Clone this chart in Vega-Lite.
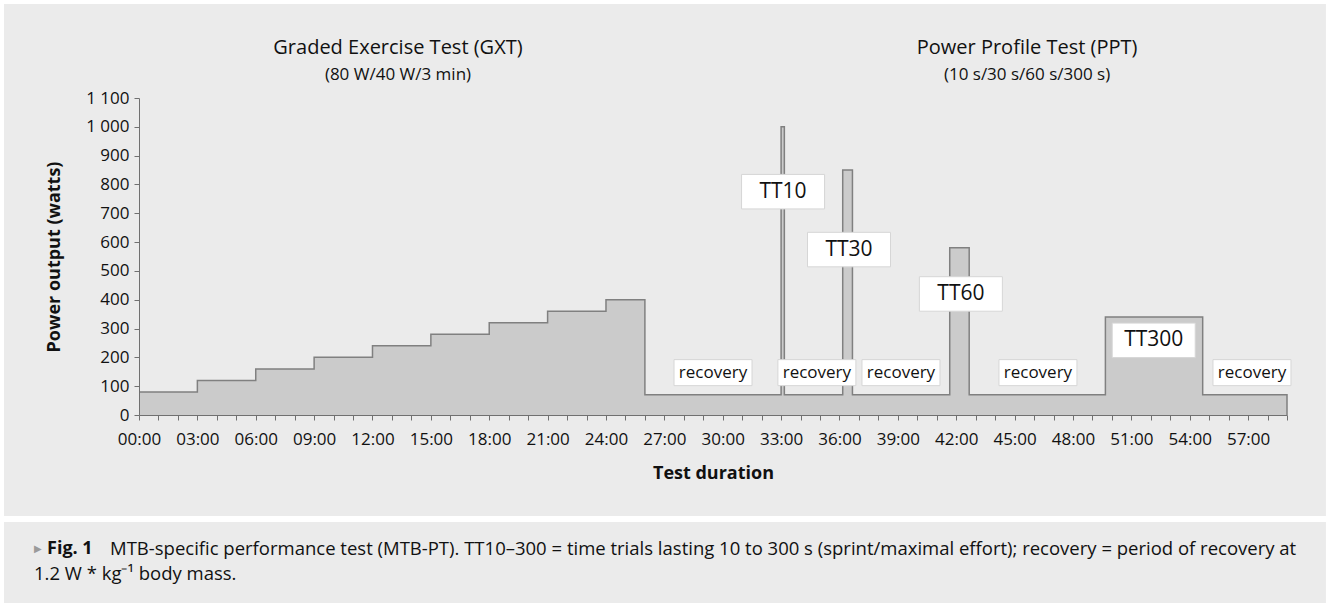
{
  "$schema": "https://vega.github.io/schema/vega-lite/v6.json",
  "width": 1148,
  "height": 317,
  "autosize": {"type": "none"},
  "padding": {"left": 139, "top": 98, "right": 43, "bottom": 188},
  "background": "#ffffff",
  "config": {"view": {"stroke": null}, "font": "Open Sans", "axis": {"labelOverlap": false, "labelFlush": false, "grid": false, "zindex": 1}},
  "datasets": {
    "profile": [
      {"t": 0, "w": 80}, {"t": 3, "w": 120}, {"t": 6, "w": 160}, {"t": 9, "w": 200},
      {"t": 12, "w": 240}, {"t": 15, "w": 280}, {"t": 18, "w": 320}, {"t": 21, "w": 360},
      {"t": 24, "w": 400}, {"t": 26, "w": 70}, {"t": 33, "w": 1000}, {"t": 33.1667, "w": 70},
      {"t": 36.1667, "w": 850}, {"t": 36.6667, "w": 70}, {"t": 41.6667, "w": 580},
      {"t": 42.6667, "w": 70}, {"t": 49.6667, "w": 340}, {"t": 54.6667, "w": 70},
      {"t": 59, "w": 70}, {"t": 59, "w": 0}
    ],
    "tt": [
      {"t": 33.10, "w": 775, "label": "TT10"},
      {"t": 36.49, "w": 574, "label": "TT30"},
      {"t": 42.24, "w": 420, "label": "TT60"},
      {"t": 52.15, "w": 259, "label": "TT300"}
    ],
    "rec": [
      {"t": 29.5, "w": 147, "label": "recovery"},
      {"t": 34.84, "w": 147, "label": "recovery"},
      {"t": 39.16, "w": 147, "label": "recovery"},
      {"t": 46.2, "w": 147, "label": "recovery"},
      {"t": 57.2, "w": 147, "label": "recovery"}
    ],
    "titles": [
      {"t": 13.31, "w": 1254, "label": "Graded Exercise Test (GXT)"},
      {"t": 45.64, "w": 1254, "label": "Power Profile Test (PPT)"}
    ],
    "subtitles": [
      {"t": 13.31, "w": 1162, "label": "(80 W/40 W/3 min)"},
      {"t": 45.64, "w": 1162, "label": "(10 s/30 s/60 s/300 s)"}
    ],
    "caption": [
      {"t": -1.49, "w": -465, "label": "MTB-specific performance test (MTB-PT). TT10–300 = time trials lasting 10 to 300 s (sprint/maximal effort); recovery = period of recovery at"},
      {"t": -5.396, "w": -551.7, "label": "1.2 W * kg⁻¹ body mass."}
    ],
    "figlabel": [{"t": -4.728, "w": -465, "label": "Fig. 1"}],
    "marker": [{"t": -5.396, "w": -465, "label": "▶"}],
    "panel": [{"x0": -6.94, "x1": 61.0, "y0": 1426, "y1": -350.5}, {"x0": -6.94, "x1": 61.0, "y0": -371.3, "y1": -720}]
  },
  "encoding": {
    "x": {"field": "t", "type": "quantitative", "title": "Test duration",
      "scale": {"domain": [0, 59], "nice": false, "zero": false},
      "axis": {
        "zindex": 1,
        "values": [0,1,2,3,4,5,6,7,8,9,10,11,12,13,14,15,16,17,18,19,20,21,22,23,24,25,26,27,28,29,30,31,32,33,34,35,36,37,38,39,40,41,42,43,44,45,46,47,48,49,50,51,52,53,54,55,56,57,58,59],
        "labelExpr": "datum.value % 3 == 0 ? (datum.value < 10 ? '0' : '') + datum.value + ':00' : ''",
        "labelFlush": false, "labelOverlap": false, "grid": false,
        "domainColor": "#707070", "tickColor": "#707070", "tickSize": 5,
        "labelFont": "Open Sans", "labelFontSize": 17, "labelColor": "#111111", "labelPadding": 11,
        "titleFont": "Open Sans", "titleFontSize": 18, "titleFontWeight": "bold", "titleColor": "#111111", "titlePadding": 17
      }},
    "y": {"field": "w", "type": "quantitative", "title": "Power output (watts)",
      "scale": {"domain": [0, 1100], "nice": false},
      "axis": {
        "zindex": 1,
        "values": [0,100,200,300,400,500,600,700,800,900,1000,1100],
        "labelExpr": "datum.value >= 1000 ? '1 ' + substring(format(datum.value, 'd'), 1) : datum.label",
        "grid": false, "labelOverlap": false, "labelFlush": false,
        "domainColor": "#707070", "tickColor": "#707070", "tickSize": 5,
        "labelFont": "Open Sans", "labelFontSize": 17, "labelColor": "#111111", "labelPadding": 5,
        "titleFont": "Open Sans", "titleFontSize": 18, "titleFontWeight": "bold", "titleColor": "#111111", "titlePadding": 22
      }}
  },
  "layer": [
    {
      "data": {"name": "panel"},
      "mark": {"type": "rect", "color": "#ebebeb"},
      "encoding": {
        "x": {"field": "x0", "type": "quantitative", "title": "Test duration"},
        "x2": {"field": "x1"},
        "y": {"field": "y0", "type": "quantitative", "title": "Power output (watts)"},
        "y2": {"field": "y1"}
      }
    },
    {
      "data": {"name": "profile"},
      "mark": {"type": "area", "interpolate": "step-after", "color": "#cbcbcb"}
    },
    {
      "data": {"name": "profile"},
      "mark": {"type": "line", "interpolate": "step-after", "color": "#808080", "strokeWidth": 1.5}
    },
    {
      "data": {"name": "tt"},
      "mark": {"type": "rect", "width": 83, "height": 34.5, "fill": "#ffffff", "stroke": "#d6d6d6", "strokeWidth": 1}
    },
    {
      "data": {"name": "tt"},
      "mark": {"type": "text", "font": "Open Sans", "fontSize": 21, "color": "#111111", "align": "center", "baseline": "middle"},
      "encoding": {"text": {"field": "label"}}
    },
    {
      "data": {"name": "rec"},
      "mark": {"type": "rect", "width": 78, "height": 26, "fill": "#ffffff", "stroke": "#d6d6d6", "strokeWidth": 1}
    },
    {
      "data": {"name": "rec"},
      "mark": {"type": "text", "font": "Open Sans", "fontSize": 17, "color": "#111111", "align": "center", "baseline": "middle"},
      "encoding": {"text": {"field": "label"}}
    },
    {
      "data": {"name": "titles"},
      "mark": {"type": "text", "font": "Open Sans", "fontSize": 20, "color": "#111111", "align": "center", "baseline": "alphabetic"},
      "encoding": {"text": {"field": "label"}}
    },
    {
      "data": {"name": "subtitles"},
      "mark": {"type": "text", "font": "Open Sans", "fontSize": 17, "color": "#111111", "align": "center", "baseline": "alphabetic"},
      "encoding": {"text": {"field": "label"}}
    },
    {
      "data": {"name": "caption"},
      "mark": {"type": "text", "font": "Open Sans", "fontSize": 18.5, "color": "#111111", "align": "left", "baseline": "middle"},
      "encoding": {"text": {"field": "label"}}
    },
    {
      "data": {"name": "figlabel"},
      "mark": {"type": "text", "font": "Open Sans", "fontSize": 18, "fontWeight": "bold", "color": "#111111", "align": "left", "baseline": "middle"},
      "encoding": {"text": {"field": "label"}}
    },
    {
      "data": {"name": "marker"},
      "mark": {"type": "text", "font": "DejaVu Sans", "fontSize": 10, "color": "#9a9a9a", "align": "left", "baseline": "middle"},
      "encoding": {"text": {"field": "label"}}
    }
  ]
}
